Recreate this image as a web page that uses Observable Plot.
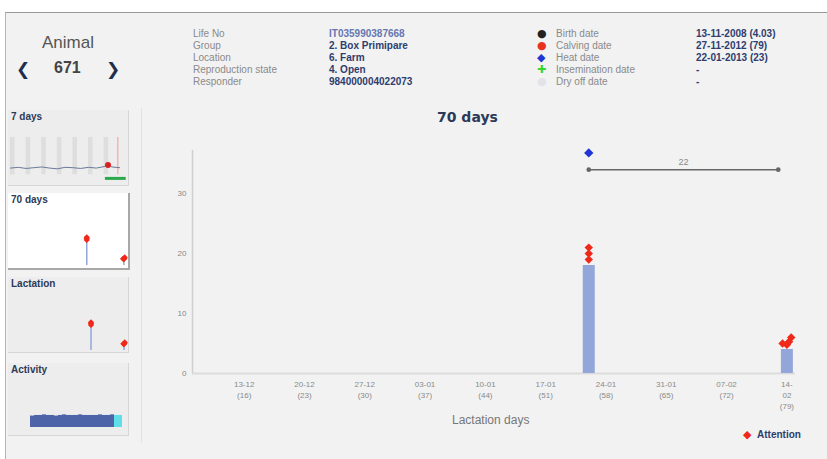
<!DOCTYPE html>
<html><head><meta charset="utf-8">
<script src="https://cdn.jsdelivr.net/npm/d3@7"></script>
<script src="https://cdn.jsdelivr.net/npm/@observablehq/plot@0.6"></script>
<style>
html,body{margin:0;padding:0;background:#fff;}
body{width:827px;height:459px;position:relative;overflow:hidden;font-family:"Liberation Sans",Arial,sans-serif;}
#frame{position:absolute;left:5px;top:12px;width:822px;height:447px;background:#f2f2f2;border-top:1px solid #9a9a9a;border-left:1px solid #b4b4b4;}
.abs{position:absolute;white-space:nowrap;}
.info{font-size:10px;line-height:12px;}
.panel{position:absolute;left:8px;width:120px;height:75px;background:#ededed;border-right:1px solid #d6d6d6;border-bottom:1px solid #d6d6d6;overflow:hidden;}
.panel.sel{background:#fff;border-right:2px solid #a8a8a8;border-bottom:2px solid #a8a8a8;}
.ptitle{position:absolute;left:3px;top:1px;font-size:10px;font-weight:bold;color:#2b3a58;z-index:2;}
.panel svg{position:absolute;left:0;top:0;}
</style></head><body>
<div id="frame"></div>
<div id="root"></div>
<script>
// ---------- DATA ----------
const animalTitle = "Animal";
const animalNumber = "671";
const infoLabels = ["Life No", "Group", "Location", "Reproduction state", "Responder"];
const infoValues = ["IT035990387668", "2. Box Primipare", "6. Farm", "4. Open", "984000004022073"];
const eventLabels = ["Birth date", "Calving date", "Heat date", "Insemination date", "Dry off date"];
const eventValues = ["13-11-2008 (4.03)", "27-11-2012 (79)", "22-01-2013 (23)", "-", "-"];
const panelTitles = ["7 days", "70 days", "Lactation", "Activity"];

const chartTitle = "70 days";
const xAxisTitle = "Lactation days";
const legendLabel = "Attention";

const windowDomain = ["2012-12-07", "2013-02-15"];
const lactationDomain = ["2012-11-27", "2013-02-15"];
const tickDates = ["2012-12-13", "2012-12-20", "2012-12-27", "2013-01-03", "2013-01-10",
                   "2013-01-17", "2013-01-24", "2013-01-31", "2013-02-07", "2013-02-14"];
const tickLabels = ["13-12\n(16)", "20-12\n(23)", "27-12\n(30)", "03-01\n(37)", "10-01\n(44)",
                    "17-01\n(51)", "24-01\n(58)", "31-01\n(65)", "07-02\n(72)", "14-\n02\n(79)"];
const yTicks = [0, 10, 20, 30];
const yMax = 37.2;

const barDates = ["2013-01-22", "2013-02-14"];
const barValues = [18, 4];

const attentionTimes = ["2013-01-22", "2013-01-22", "2013-01-22",
                        "2013-02-13T12:00", "2013-02-14", "2013-02-14T06:00", "2013-02-14T12:00"];
const attentionValues = [19, 20, 21, 5, 4.8, 5.3, 6];

const heatDates = ["2013-01-22"];
const heatLevels = [36.8];

const intervalStart = ["2013-01-22"];
const intervalEnd = ["2013-02-13"];
const intervalLevel = [34];
const intervalLabel = ["22"];

// 7 days thumbnail
const weekDomain = ["2013-02-08", "2013-02-15T12:00"];
const weekDays = ["2013-02-08", "2013-02-09", "2013-02-10", "2013-02-11", "2013-02-12", "2013-02-13", "2013-02-14"];
const weekLineTimes = ["2013-02-08", "2013-02-08T12:00", "2013-02-09", "2013-02-09T12:00", "2013-02-10",
  "2013-02-10T12:00", "2013-02-11", "2013-02-11T12:00", "2013-02-12", "2013-02-12T12:00", "2013-02-13",
  "2013-02-13T12:00", "2013-02-14", "2013-02-14T06:00", "2013-02-14T12:00", "2013-02-15"];
const weekLineValues = [1.8, 2.0, 1.7, 1.9, 2.1, 1.8, 1.6, 2.0, 1.9, 1.7, 2.0, 1.8, 2.2, 2.6, 2.1, 1.9];
const weekAttentionTimes = ["2013-02-14T06:00"];
const weekAttentionValues = [2.6];
const weekNow = ["2013-02-14T21:00"];
const weekFlagStart = ["2013-02-14T02:00"];
const weekFlagEnd = ["2013-02-15T10:00"];

// activity thumbnail
const activityValues = [9.5, 10, 10, 10.5, 10, 10, 9.5, 10, 10.5, 10, 10, 10, 10.5, 10, 10, 10, 10, 10.5, 10, 10, 10.5, 10, 10];
const activityRecent = [false, false, false, false, false, false, false, false, false, false, false, false,
                        false, false, false, false, false, false, false, false, false, true, true];

// ---------- helpers ----------
const P = s => new Date(s + (s.length === 10 ? "T00:00Z" : "Z"));
const root = document.getElementById("root");
function add(html, style, cls) {
  const d = document.createElement("div");
  d.className = "abs " + (cls || "");
  d.style.cssText = style;
  d.textContent = html;
  root.appendChild(d);
  return d;
}

// ---------- header ----------
add(animalTitle, "left:42px;top:33px;font-size:17px;color:#555;");
add("❮", "left:16px;top:59px;font-size:17px;font-weight:bold;color:#1f2d4c;font-family:'DejaVu Sans';");
add(animalNumber, "left:54px;top:59px;font-size:16px;font-weight:bold;color:#444;");
add("❯", "left:106px;top:59px;font-size:17px;font-weight:bold;color:#1f2d4c;font-family:'DejaVu Sans';");

infoLabels.forEach((t, i) => add(t, `left:193px;top:${28 + i * 12}px;color:#8a8a8a;`, "info"));
infoValues.forEach((t, i) => add(t, `left:329px;top:${28 + i * 12}px;color:${i === 0 ? "#6677b0" : "#2e3d6e"};font-weight:bold;`, "info"));
const symChars = ["●", "●", "◆", "✚", "●"];
const symColors = ["#222", "#e8321e", "#1f35d6", "#33d633", "#e2e2e8"];
eventLabels.forEach((t, i) => {
  add(symChars[i], `left:537px;top:${28 + i * 12}px;color:${symColors[i]};font-size:11px;font-family:'DejaVu Sans';`, "info");
  add(t, `left:556px;top:${28 + i * 12}px;color:#8a8a8a;`, "info");
});
eventValues.forEach((t, i) => add(t, `left:696px;top:${28 + i * 12}px;color:#2e3d6e;font-weight:bold;`, "info"));

// separator line of sidebar
add("", "left:141px;top:108px;width:1px;height:335px;background:#e2e2e2;");

// ---------- main chart ----------
const bars = barDates.map((d, i) => ({date: P(d), value: barValues[i]}));
const att = attentionTimes.map((d, i) => ({date: P(d), value: attentionValues[i]}));
const heat = heatDates.map((d, i) => ({date: P(d), value: heatLevels[i]}));
const intervals = intervalStart.map((d, i) => ({x1: P(d), x2: P(intervalEnd[i]), y: intervalLevel[i], label: intervalLabel[i]}));
const labelMap = new Map(tickDates.map((d, i) => [+P(d), tickLabels[i]]));
const xDom = windowDomain.map(P);

const RED = "#f0281a", BAR = "#93a6d9";

const main = Plot.plot({
  width: 680, height: 300,
  marginLeft: 47, marginRight: 30, marginTop: 20, marginBottom: 57,
  style: {background: "transparent", fontFamily: "Liberation Sans, Arial, sans-serif", overflow: "visible"},
  x: {type: "utc", domain: xDom},
  y: {domain: [0, yMax]},
  marks: [
    Plot.ruleY([0], {stroke: "#dcdcdc", strokeWidth: 2}),
    Plot.ruleX([xDom[0]], {stroke: "#cfcfcf", strokeWidth: 1.5}),
    Plot.axisY({ticks: yTicks, tickSize: 0, tickPadding: 6, fontSize: 8, fill: "#888", label: null}),
    Plot.axisX({ticks: tickDates.map(P), tickFormat: d => labelMap.get(+d), tickSize: 0, tickPadding: 6,
                lineHeight: 1.35, fontSize: 8, fill: "#8a8a8a", label: null}),
    Plot.ruleX(bars, {x: "date", y1: 0, y2: "value", stroke: BAR, strokeWidth: 12}),
    Plot.dot(att, {x: "date", y: "value", symbol: "diamond2", r: 3.8, fill: RED}),
    Plot.dot(heat, {x: "date", y: "value", symbol: "diamond2", r: 4.2, fill: "#1f35d6"}),
    Plot.link(intervals, {x1: "x1", x2: "x2", y1: "y", y2: "y", stroke: "#666", strokeWidth: 1.4,
                          markerStart: "dot", markerEnd: "dot"}),
    Plot.text(intervals, {x: d => new Date((+d.x1 + +d.x2) / 2), y: "y", text: "label", dy: -8, fontSize: 9, fill: "#888"})
  ]
});
main.style.position = "absolute";
main.style.left = "145px";
main.style.top = "130px";
root.appendChild(main);

add(chartTitle, "left:437px;top:109px;font-size:14px;font-weight:bold;color:#2b3a58;font-family:'DejaVu Sans';");
add(xAxisTitle, "left:452px;top:413px;font-size:12px;color:#777;");
add("◆", "left:743px;top:428px;font-size:11px;color:" + RED + ";font-family:'DejaVu Sans';");
add(legendLabel, "left:757px;top:429px;font-size:10px;font-weight:bold;color:#2e3d6e;");

// ---------- sidebar thumbnails ----------
const panelTops = [110, 193, 277, 363];
const panels = panelTitles.map((t, i) => {
  const p = document.createElement("div");
  p.className = "panel" + (i === 1 ? " sel" : "");
  p.style.top = panelTops[i] + "px";
  if (i === 3) p.style.height = "72px";
  const tt = document.createElement("div");
  tt.className = "ptitle";
  tt.textContent = t;
  p.appendChild(tt);
  root.appendChild(p);
  return p;
});
const thumbStyle = {background: "transparent", overflow: "visible"};

// 7 days
const wk = Plot.plot({
  width: 120, height: 75, marginLeft: 2, marginRight: 1, marginTop: 27, marginBottom: 4,
  style: thumbStyle,
  x: {type: "utc", domain: weekDomain.map(P), axis: null},
  y: {domain: [-1.8, 10], axis: null},
  marks: [
    Plot.rect(weekDays, {x1: d => P(d), x2: d => new Date(+P(d) + 7 * 3600e3), y1: 0, y2: 10, fill: "#dedede"}),
    Plot.ruleX(weekNow, {x: d => P(d), y1: 0, y2: 10, stroke: "#f2b5b5", strokeWidth: 1.5}),
    Plot.rect(weekFlagStart, {x1: d => P(d), x2: (d, i) => P(weekFlagEnd[i]), y1: -1.5, y2: -0.7, fill: "#2aa84a"}),
    Plot.line(weekLineTimes, {x: d => P(d), y: (d, i) => weekLineValues[i], stroke: "#6a7a9a", strokeWidth: 1}),
    Plot.dot(weekAttentionTimes, {x: d => P(d), y: (d, i) => weekAttentionValues[i], r: 3, fill: "#d92020"})
  ]
});
panels[0].appendChild(wk);

// 70 days
const thumbMarks = (sw, r) => [
  Plot.ruleX(bars, {x: "date", y1: 0, y2: "value", stroke: BAR, strokeWidth: sw}),
  Plot.dot(att, {x: "date", y: "value", symbol: "diamond2", r, fill: RED})
];
const t70 = Plot.plot({
  width: 120, height: 75, marginLeft: 4, marginRight: 3, marginTop: 22, marginBottom: 3,
  style: thumbStyle,
  x: {type: "utc", domain: xDom, axis: null},
  y: {domain: [0, yMax], axis: null},
  marks: thumbMarks(1.5, 2.8)
});
panels[1].appendChild(t70);

// Lactation
const tl = Plot.plot({
  width: 120, height: 75, marginLeft: 2, marginRight: 3, marginTop: 23, marginBottom: 2,
  style: thumbStyle,
  x: {type: "utc", domain: lactationDomain.map(P), axis: null},
  y: {domain: [0, yMax], axis: null},
  marks: thumbMarks(1.5, 2.8)
});
panels[2].appendChild(tl);

// Activity
const act = activityValues.map((v, i) => ({i, v, recent: activityRecent[i]}));
const ta = Plot.plot({
  width: 120, height: 72, marginLeft: 20, marginRight: 5, marginTop: 5, marginBottom: 8,
  style: thumbStyle,
  x: {type: "band", domain: d3.range(activityValues.length), padding: 0, axis: null},
  y: {domain: [0, 49], axis: null},
  marks: [
    Plot.barY(act, {x: "i", y: "v", fill: d => d.recent ? "#5fe0e8" : "#4d64a8", inset: 0})
  ]
});
panels[3].appendChild(ta);
</script>
</body></html>
